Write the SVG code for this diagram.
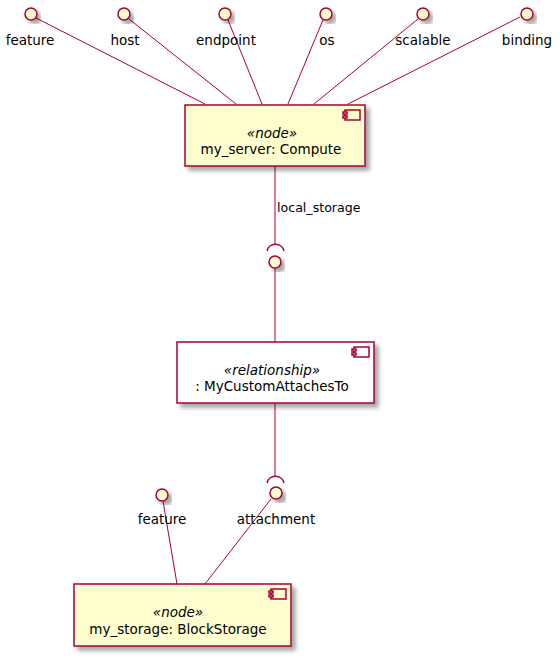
<svg xmlns="http://www.w3.org/2000/svg" width="560" height="659" viewBox="0 0 560 659">
<defs>
<filter id="sh" x="-20%" y="-20%" width="150%" height="150%">
<feGaussianBlur in="SourceAlpha" stdDeviation="2"/>
<feOffset dx="4" dy="4" result="b"/>
<feComponentTransfer><feFuncA type="linear" slope="0.35"/></feComponentTransfer>
<feMerge><feMergeNode/><feMergeNode in="SourceGraphic"/></feMerge>
</filter>
</defs>
<style>
.box{fill:#FEFECE;stroke:#A80036;stroke-width:1.5;filter:url(#sh)}
.wbox{fill:#FFFFFF;stroke:#A80036;stroke-width:1.5;filter:url(#sh)}
.ic{fill:#FEFECE;stroke:#A80036;stroke-width:1.5}
.wic{fill:#FFFFFF;stroke:#A80036;stroke-width:1.5}
.if{fill:#FEFECE;stroke:#A80036;stroke-width:1.5;filter:url(#sh)}
.ln{stroke:#A80036;stroke-width:1;fill:none}
.arc{stroke:#A80036;stroke-width:1.5;fill:none}
text{font-family:"DejaVu Sans","Liberation Sans",sans-serif;font-size:13.5px;fill:#000000}
.st{font-style:italic}
.lbl{font-size:12.6px}
</style>
<g id="connectors">
<line class="ln" x1="36" y1="18" x2="205" y2="104"/>
<line class="ln" x1="129" y1="19" x2="236" y2="104"/>
<line class="ln" x1="228" y1="20" x2="262" y2="104"/>
<line class="ln" x1="323" y1="20" x2="288" y2="104"/>
<line class="ln" x1="418" y1="19" x2="314" y2="104"/>
<line class="ln" x1="520" y1="17" x2="348" y2="104"/>
<line class="ln" x1="275" y1="166" x2="275" y2="244"/>
<text class="lbl" x="277" y="212">local_storage</text>
<line class="ln" x1="275" y1="268" x2="275" y2="342"/>
<line class="ln" x1="275" y1="403" x2="275" y2="476"/>
<line class="ln" x1="163" y1="501" x2="177" y2="584"/>
<line class="ln" x1="271" y1="499" x2="205" y2="584"/>
</g>
<g id="if_feature"><circle class="if" cx="31" cy="14" r="6"/><text x="30" y="45" text-anchor="middle">feature</text></g>
<g id="if_host"><circle class="if" cx="124" cy="14" r="6"/><text x="125" y="45" text-anchor="middle">host</text></g>
<g id="if_endpoint"><circle class="if" cx="225" cy="14" r="6"/><text x="226" y="45" text-anchor="middle">endpoint</text></g>
<g id="if_os"><circle class="if" cx="326" cy="14" r="6"/><text x="327" y="45" text-anchor="middle">os</text></g>
<g id="if_scalable"><circle class="if" cx="423" cy="14" r="6"/><text x="423" y="45" text-anchor="middle">scalable</text></g>
<g id="if_binding"><circle class="if" cx="527" cy="14" r="6"/><text x="527" y="45" text-anchor="middle">binding</text></g>
<g id="my_server">
<rect class="box" x="185" y="105" width="180" height="61"/>
<rect class="ic" x="345" y="110" width="15" height="10"/>
<rect class="ic" x="343" y="112" width="4" height="2"/>
<rect class="ic" x="343" y="116" width="4" height="2"/>
<text class="st" x="272" y="138" text-anchor="middle">«node»</text>
<text x="271" y="154" text-anchor="middle">my_server: Compute</text>
</g>
<g id="local_storage_socket">
<path class="arc" d="M267,251 A8.7,8.7 0 0 1 284,251"/>
<circle class="if" cx="275" cy="262" r="6"/>
</g>
<g id="relationship">
<rect class="wbox" x="177" y="342" width="197" height="61"/>
<rect class="wic" x="354" y="347" width="15" height="10"/>
<rect class="wic" x="352" y="349" width="4" height="2"/>
<rect class="wic" x="352" y="353" width="4" height="2"/>
<text class="st" x="272" y="375" text-anchor="middle">«relationship»</text>
<text x="272" y="391" text-anchor="middle">: MyCustomAttachesTo</text>
</g>
<g id="attachment_socket">
<path class="arc" d="M267,483 A8.7,8.7 0 0 1 284,483"/>
<circle class="if" cx="276" cy="493" r="6"/>
<text x="276" y="524" text-anchor="middle">attachment</text>
</g>
<g id="if_feature2"><circle class="if" cx="162" cy="495" r="6"/><text x="162" y="524" text-anchor="middle">feature</text></g>
<g id="my_storage">
<rect class="box" x="74" y="584" width="217" height="62"/>
<rect class="ic" x="271" y="589" width="15" height="10"/>
<rect class="ic" x="269" y="591" width="4" height="2"/>
<rect class="ic" x="269" y="595" width="4" height="2"/>
<text class="st" x="178" y="617" text-anchor="middle">«node»</text>
<text x="178" y="634" text-anchor="middle">my_storage: BlockStorage</text>
</g>
</svg>
